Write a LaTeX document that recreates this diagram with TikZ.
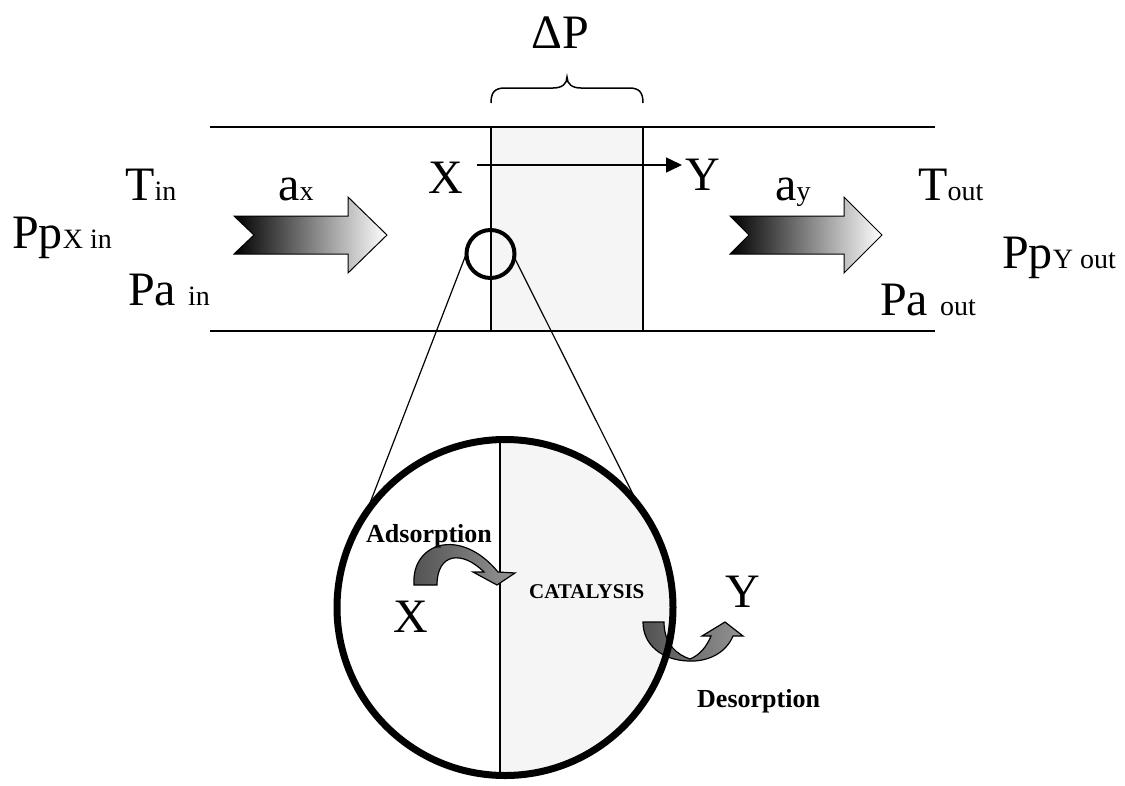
\documentclass[tikz,border=0pt]{standalone}
\usepackage{fontspec}
\setmainfont{Liberation Serif}
\usetikzlibrary{arrows.meta}
\newcommand\sbs[1]{{\fontsize{28}{28}\selectfont #1}}
\begin{document}
\begin{tikzpicture}[x=1pt,y=-1pt,
  bigtxt/.style={anchor=base west,inner sep=0,font=\fontsize{48}{48}\selectfont},
  lbl/.style={anchor=base west,inner sep=0,font=\bfseries\fontsize{26}{26}\selectfont},
  pipe/.style={line width=2},
  grad/.style={left color=black,right color=white,draw=black,line width=1},
  curvedarrow/.style={draw=black,line width=1.2,left color=black!68,right color=black!42},
  zoomline/.style={line width=1.2},
]
\useasboundingbox (0,0) rectangle (1125,785);
% catalyst block in pipe
\node[draw,pipe,fill=black!4,minimum width=152,minimum height=204,inner sep=0,outer sep=0] (blk) at (567,229) {};
% pipe walls
\coordinate (tl) at (210,127); \coordinate (tr) at (935,127);
\coordinate (bl) at (210,331); \coordinate (br) at (935,331);
\draw[pipe] (tl) -- (tr);
\draw[pipe] (bl) -- (br);
% brace
\draw[line width=1.5] (491,103) .. controls (491,92) and (495,88) .. (505,88) -- (553,88)
  .. controls (562,88) and (567,84) .. (567,77) .. controls (567,84) and (572,88) .. (581,88)
  -- (629,88) .. controls (639,88) and (643,92) .. (643,103);
% gradient arrows
\draw[grad] (234,216) -- (348,216) -- (348,197) -- (387,235) -- (348,273) -- (348,254) -- (234,254) -- (254,235) -- cycle;
\draw[grad] (730,216) -- (844,216) -- (844,197) -- (882,235) -- (844,273) -- (844,254) -- (730,254) -- (749,235) -- cycle;
% X -> Y arrow
\coordinate (xs) at (477,165); \coordinate (ye) at (682,165);
\draw[line width=1.5,-{Triangle[length=16pt,width=15pt]}] (xs) -- (ye);
% small circle
\node[circle,draw,line width=4,minimum size=48,inner sep=0,outer sep=0] (sc) at (490.5,254) {};
% big circle interior
\begin{scope}
\clip (505,607.5) circle (168pt);
\fill[black!4] (500,430) rectangle (690,790);
\draw[zoomline] (500,430) -- (500,790);
\end{scope}
\node[circle,line width=7,minimum size=337,inner sep=0,outer sep=0] (bc) at (505,607.5) {};
% zoom lines
\draw[zoomline] (sc.178) -- (bc.145);
\draw[zoomline] (sc.-8) -- (bc.38);
% adsorption arrow
\draw[curvedarrow] (414,585) .. controls (411,543) and (460,526) .. (498,572) -- (515,573) -- (497,585) -- (473,572) -- (484,572)
  .. controls (462,550) and (437,553) .. (437,585) -- cycle;
% desorption arrow
\draw[curvedarrow] (643,622) -- (664,622) .. controls (664,645) and (678,655) .. (690,659)
  .. controls (700,655) and (707,646) .. (711,636) -- (702,636) -- (725,622) -- (743,636) -- (733,636)
  .. controls (725,655) and (705,662) .. (688,661) .. controls (662,660) and (643,645) .. (643,622) -- cycle;
% big circle outline on top
\draw[line width=7] (bc.center) circle (168pt);
% texts
\node[bigtxt] (ppx) at (12,248) {Pp\sbs{X in}};
\node[bigtxt] (tin) at (125,200) {T\sbs{in}};
\node[bigtxt] (pain) at (128,305) {Pa \sbs{in}};
\node[bigtxt] (ax) at (278,200) {a\sbs{x}};
\node[bigtxt] (xtop) at (428,193) {X};
\node[bigtxt] (ytop) at (685,190) {Y};
\node[bigtxt,anchor=base] (dp) at (560,48) {ΔP};
\node[bigtxt] (ay) at (775,200) {a\sbs{y}};
\node[bigtxt] (tout) at (918,200) {T\sbs{out}};
\node[bigtxt] (ppy) at (1002,268) {Pp\sbs{Y out}};
\node[bigtxt] (paout) at (880,315) {Pa \sbs{out}};
\node[lbl] (ads) at (366,542) {Adsorption};
\node[bigtxt] (xin) at (393,632) {X};
\node[lbl,font=\bfseries\fontsize{21}{21}\selectfont] (catl) at (529,598) {CATALYSIS};
\node[bigtxt] (yin) at (725,607) {Y};
\node[lbl] (des) at (697,707) {Desorption};
\end{tikzpicture}
\end{document}
